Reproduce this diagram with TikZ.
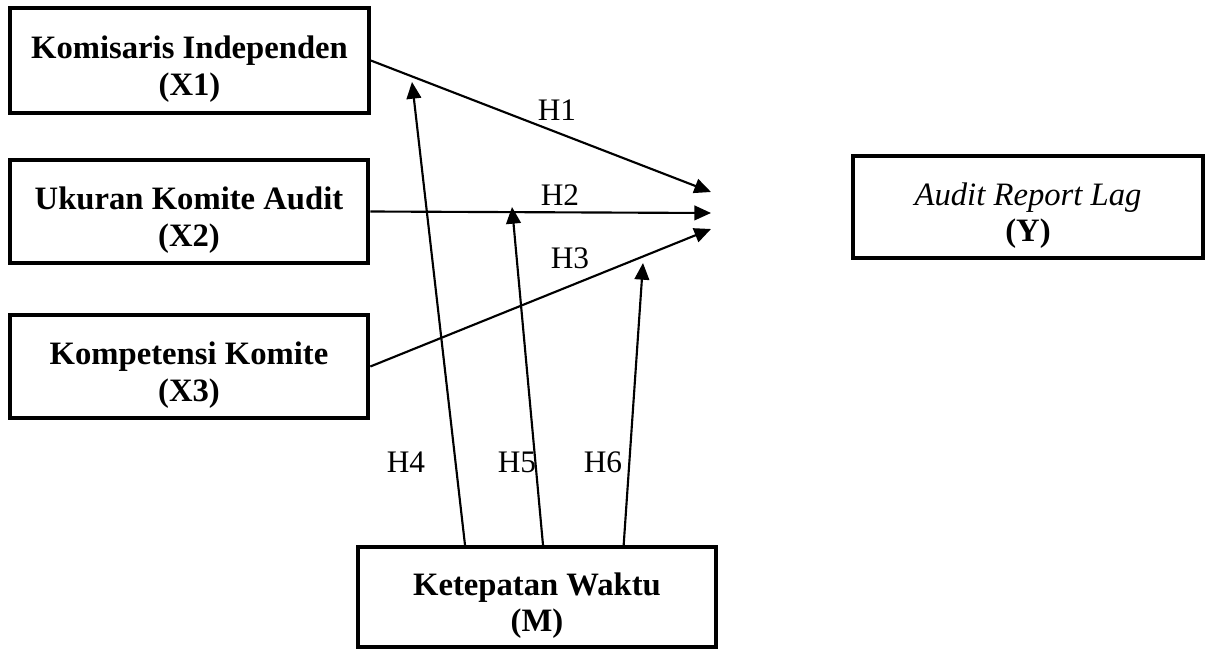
\documentclass[tikz,border=0pt]{standalone}
\usepackage{fontspec}
\setmainfont{Liberation Serif}
\usetikzlibrary{positioning,arrows.meta}
\def\topgap{\rule{0pt}{30pt}}

\begin{document}
\begin{tikzpicture}[x=0.75pt, y=-0.75pt,
                    varbox/.style = {shape=rectangle, draw, line width=3pt,
                      align=center, inner sep=0pt,
                      minimum width=269pt, minimum height=77pt,
                      font=\fontsize{24.5}{27.5}\selectfont\bfseries},
                    link/.style = {-{Triangle[length=12.5pt,width=11pt]},
                      line width=1.6pt},
                    hlabel/.style = {font=\fontsize{23.5}{27}\selectfont}]
  \useasboundingbox (0,0) rectangle (1206,650);

  % variables
  \node[varbox, minimum height=79pt] (x1) at (189.5,60.5) {\topgap Komisaris Independen\\(X1)};
  \node[varbox] (x2) at (189,211.5) {\topgap Ukuran Komite Audit\\(X2)};
  \node[varbox] (x3) at (189,366.5) {\topgap Kompetensi Komite\\(X3)};
  \node[varbox, minimum height=75pt] (m) at (537,597) {\topgap Ketepatan Waktu\\(M)};
  \node[varbox, minimum width=262pt] (y) at (1028,207)
    {\topgap{\mdseries\itshape Audit Report Lag}\\(Y)};

  % arrow ends
  \coordinate (h1) at (711,192);
  \coordinate (h2) at (711,213);
  \coordinate (h3) at (711,229);
  \coordinate (h4) at (412,82);
  \coordinate (h5) at (512,207);
  \coordinate (h6) at (643,263);

  \draw[link] (x1.east) -- (h1);
  \draw[link] (x2.east) -- (h2);
  \draw[link] (x3.east) -- (h3);
  \draw[link] ([xshift=-54pt]m.north) -- (h4);
  \draw[link] ([xshift=4.5pt]m.north) -- (h5);
  \draw[link] ([xshift=65pt]m.north) -- (h6);

  % hypotheses
  \node[hlabel] (l1) at (557,110) {H1};
  \node[hlabel] (l2) at (560,195) {H2};
  \node[hlabel] (l3) at (570,258) {H3};
  \node[hlabel] (l4) at (406,462) {H4};
  \node[hlabel] (l5) at (517,462) {H5};
  \node[hlabel] (l6) at (603,462) {H6};
\end{tikzpicture}
\end{document}
